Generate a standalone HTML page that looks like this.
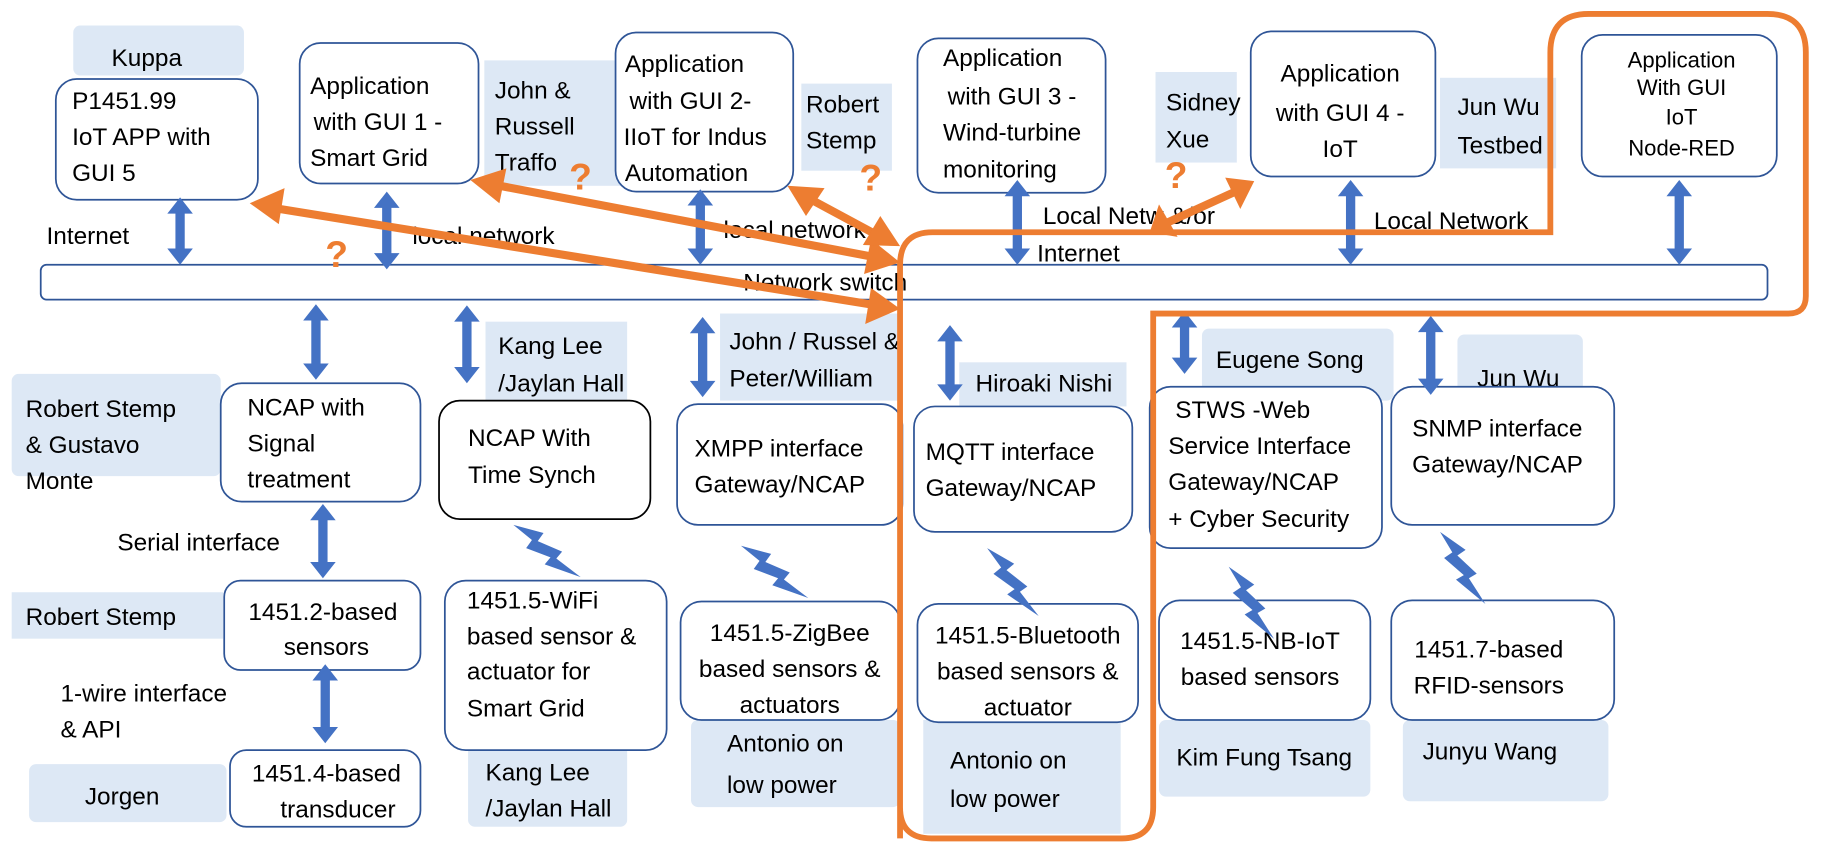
<!DOCTYPE html>
<html><head><meta charset="utf-8"><style>
html,body{margin:0;padding:0;background:#fff;}
svg{display:block;}
text{font-family:"Liberation Sans",sans-serif;font-size:21px;fill:#000;}
.lb{fill:#dde8f5;}
.bx{fill:#fff;stroke:#2f5597;stroke-width:1.5;}
.m{text-anchor:middle;}
.q{fill:#ed7d31;font-weight:bold;font-size:32px;font-family:"Liberation Sans",sans-serif;}
</style></head><body>
<svg width="1821" height="857" viewBox="0 0 1568 738" xmlns="http://www.w3.org/2000/svg">
<defs>
<path id="bolt" d="M0,0 L26,7 L21,14 L42,23 L37,29 L58,45 L27,34 L32,28 L11,20 L16,13 Z" fill="#4472c4"/>
</defs>
<!-- light labels -->
<rect class="lb" x="63" y="22" width="147" height="43" rx="6"/>
<rect class="lb" x="417" y="52" width="123" height="108"/>
<rect class="lb" x="690" y="72" width="78" height="75"/>
<rect class="lb" x="995" y="62" width="70" height="78"/>
<rect class="lb" x="1240" y="67" width="100" height="78"/>
<rect class="lb" x="418" y="277" width="122" height="68"/>
<rect class="lb" x="620" y="270" width="156" height="75"/>
<rect class="lb" x="826" y="312" width="144" height="38"/>
<rect class="lb" x="1035" y="283" width="165" height="62" rx="6"/>
<rect class="lb" x="1255" y="288" width="108" height="52" rx="6"/>
<rect class="lb" x="10" y="322" width="180" height="88" rx="6"/>
<rect class="lb" x="10" y="510" width="182" height="40"/>
<rect class="lb" x="25" y="658" width="170" height="50" rx="6"/>
<rect class="lb" x="403" y="640" width="137" height="72" rx="6"/>
<rect class="lb" x="595" y="620" width="180" height="75" rx="6"/>
<rect class="lb" x="795" y="620" width="170" height="98"/>
<rect class="lb" x="998" y="620" width="182" height="66" rx="6"/>
<rect class="lb" x="1208" y="620" width="177" height="70" rx="6"/>
<!-- label text -->
<text x="96" y="57">Kuppa</text>
<text x="426" y="85">John &amp;</text><text x="426" y="116">Russell</text><text x="426" y="147">Traffo</text>
<text x="694" y="97">Robert</text><text x="694" y="128">Stemp</text>
<text x="1004" y="95">Sidney</text><text x="1004" y="127">Xue</text>
<text x="1255" y="99">Jun Wu</text><text x="1255" y="132">Testbed</text>
<text x="429" y="305">Kang Lee</text><text x="429" y="337">/Jaylan Hall</text>
<text x="628" y="301">John / Russel &amp;</text><text x="628" y="333">Peter/William</text>
<text x="840" y="337">Hiroaki Nishi</text>
<text x="1047" y="317">Eugene Song</text>
<text x="1272" y="333">Jun Wu</text>
<text x="22" y="359">Robert Stemp</text><text x="22" y="390">&amp;  Gustavo</text><text x="22" y="421">Monte</text>
<text x="22" y="538">Robert Stemp</text>
<text x="73" y="693">Jorgen</text>
<text x="418" y="672">Kang Lee</text><text x="418" y="703">/Jaylan Hall</text>
<text x="626" y="647">Antonio on</text><text x="626" y="683">low power</text>
<text x="818" y="662">Antonio on</text><text x="818" y="695">low power</text>
<text x="1013" y="659">Kim Fung Tsang</text>
<text x="1225" y="654">Junyu Wang</text>
<!-- switch -->
<rect x="35" y="228" width="1487" height="30" rx="5" fill="#fff" stroke="#2f5597" stroke-width="1.5"/>
<text x="640" y="250">Network switch</text>
<!-- top boxes -->
<rect class="bx" x="48" y="68" width="174" height="104" rx="18"/>
<text x="62" y="94">P1451.99</text><text x="62" y="125">IoT APP with</text><text x="62" y="156">GUI 5</text>
<rect class="bx" x="258" y="37" width="154" height="121" rx="18"/>
<text x="267" y="81">Application</text><text x="270" y="112">with  GUI 1 -</text><text x="267" y="143">Smart Grid</text>
<rect class="bx" x="530" y="28" width="153" height="137" rx="18"/>
<text x="538" y="62">Application</text><text x="542" y="94">with  GUI 2-</text><text x="537" y="125">IIoT for Indus</text><text x="538" y="156">Automation</text>
<rect class="bx" x="790" y="33" width="162" height="133" rx="18"/>
<text x="812" y="57">Application</text><text x="816" y="90">with  GUI 3 -</text><text x="812" y="121">Wind-turbine</text><text x="812" y="153">monitoring</text>
<rect class="bx" x="1077" y="27" width="159" height="125" rx="18"/>
<text class="m" x="1154" y="70">Application</text><text class="m" x="1154" y="104">with GUI 4 -</text><text class="m" x="1154" y="135">IoT</text>
<rect class="bx" x="1362" y="30" width="168" height="122" rx="18"/>
<text class="m" x="1448" y="58" style="font-size:19px">Application</text><text class="m" x="1448" y="82" style="font-size:19px">With GUI</text><text class="m" x="1448" y="107" style="font-size:19px">IoT</text><text class="m" x="1448" y="134" style="font-size:19px">Node-RED</text>
<!-- middle boxes -->
<rect class="bx" x="190" y="330" width="172" height="102" rx="18"/>
<text x="213" y="358">NCAP with</text><text x="213" y="389">Signal</text><text x="213" y="420">treatment</text>
<rect x="378" y="345" width="182" height="102" rx="18" fill="#fff" stroke="#000" stroke-width="1.5"/>
<text x="403" y="384">NCAP With</text><text x="403" y="416">Time Synch</text>
<rect class="bx" x="583" y="348" width="194" height="104" rx="18"/>
<text x="598" y="393">XMPP interface</text><text x="598" y="424">Gateway/NCAP</text>
<rect class="bx" x="787" y="350" width="188" height="108" rx="18"/>
<text x="797" y="396">MQTT interface</text><text x="797" y="427">Gateway/NCAP</text>
<rect class="bx" x="990" y="333" width="200" height="139" rx="18"/>
<text x="1012" y="360">STWS -Web</text><text x="1006" y="391">Service Interface</text><text x="1006" y="422">Gateway/NCAP</text><text x="1006" y="454">+ Cyber Security</text>
<rect class="bx" x="1198" y="333" width="192" height="119" rx="18"/>
<text x="1216" y="376">SNMP interface</text><text x="1216" y="407">Gateway/NCAP</text>
<!-- bottom boxes -->
<rect class="bx" x="193" y="500" width="169" height="77" rx="14"/>
<text class="m" x="278" y="534">1451.2-based</text><text class="m" x="281" y="564">sensors</text>
<rect class="bx" x="198" y="646" width="164" height="66" rx="14"/>
<text class="m" x="281" y="673">1451.4-based</text><text class="m" x="291" y="704">transducer</text>
<rect class="bx" x="383" y="500" width="191" height="146" rx="18"/>
<text x="402" y="524">1451.5-WiFi</text><text x="402" y="555">based sensor &amp;</text><text x="402" y="585">actuator for</text><text x="402" y="617">Smart Grid</text>
<rect class="bx" x="586" y="518" width="189" height="102" rx="18"/>
<text class="m" x="680" y="552">1451.5-ZigBee</text><text class="m" x="680" y="583">based sensors &amp;</text><text class="m" x="680" y="614">actuators</text>
<rect class="bx" x="790" y="520" width="190" height="102" rx="18"/>
<text class="m" x="885" y="554">1451.5-Bluetooth</text><text class="m" x="885" y="585">based sensors &amp;</text><text class="m" x="885" y="616">actuator</text>
<rect class="bx" x="998" y="517" width="182" height="103" rx="18"/>
<text class="m" x="1085" y="559">1451.5-NB-IoT</text><text class="m" x="1085" y="590">based sensors</text>
<rect class="bx" x="1198" y="517" width="192" height="103" rx="18"/>
<text class="m" x="1282" y="566">1451.7-based</text><text class="m" x="1282" y="597">RFID-sensors</text>
<!-- plain labels -->
<text x="40" y="210">Internet</text>
<text x="355" y="210">local network</text>
<text x="623" y="205">local network</text>
<text x="898" y="193">Local Netw &amp;/or</text><text x="893" y="225">Internet</text>
<text x="1183" y="197">Local Network</text>
<text x="101" y="474">Serial interface</text>
<text x="52" y="604">1-wire interface</text><text x="52" y="635">&amp; API</text>
<!-- blue double arrows -->
<g fill="#4472c4">
<polygon points="155,170 166,184 159,184 159,214 166,214 155,228 144,214 151,214 151,184 144,184"/>
<polygon points="333,165 344,179 337,179 337,218 344,218 333,232 322,218 329,218 329,179 322,179"/>
<polygon points="603,163 614,177 607,177 607,214 614,214 603,228 592,214 599,214 599,177 592,177"/>
<polygon points="876,155 887,169 880,169 880,214 887,214 876,228 865,214 872,214 872,169 865,169"/>
<polygon points="1163,155 1174,169 1167,169 1167,214 1174,214 1163,228 1152,214 1159,214 1159,169 1152,169"/>
<polygon points="1446,155 1457,169 1450,169 1450,214 1457,214 1446,228 1435,214 1442,214 1442,169 1435,169"/>
<polygon points="272,262 283,276 276,276 276,313 283,313 272,327 261,313 268,313 268,276 261,276"/>
<polygon points="402,263 413,277 406,277 406,316 413,316 402,330 391,316 398,316 398,277 391,277"/>
<polygon points="605,273 616,287 609,287 609,328 616,328 605,342 594,328 601,328 601,287 594,287"/>
<polygon points="818,280 829,294 822,294 822,331 829,331 818,345 807,331 814,331 814,294 807,294"/>
<polygon points="1020,268 1031,282 1024,282 1024,308 1031,308 1020,322 1009,308 1016,308 1016,282 1009,282"/>
<polygon points="1232,272 1243,286 1236,286 1236,326 1243,326 1232,340 1221,326 1228,326 1228,286 1221,286"/>
<polygon points="278,434 289,448 282,448 282,484 289,484 278,498 267,484 274,484 274,448 267,448"/>
<polygon points="280,572 291,586 284,586 284,626 291,626 280,640 269,626 276,626 276,586 269,586"/>
</g>
<!-- lightning -->
<use href="#bolt" transform="translate(442,452)"/>
<use href="#bolt" transform="translate(638,470)"/>
<use href="#bolt" transform="translate(850,472) rotate(15)"/>
<use href="#bolt" transform="translate(1058,488) rotate(20)"/>
<use href="#bolt" transform="translate(1240,458) rotate(20)"/>
<!-- orange outline -->
<path d="M775,722 L775,228 Q775,200 803,200 L1335,200 L1335,45 Q1335,12 1368,12 L1522,12 Q1555,12 1555,45 L1555,255 Q1555,270 1540,270 L993,270 L993,695 Q993,722 966,722 L802,722 Q775,722 775,695 Z" fill="none" stroke="#ed7d31" stroke-width="5"/>
<!-- orange arrows -->
<g stroke="#ed7d31" stroke-width="7" fill="none">
<line x1="235" y1="179" x2="755" y2="263"/>
<line x1="425" y1="159" x2="756" y2="222"/>
<line x1="695" y1="170" x2="760" y2="205"/>
<line x1="1000" y1="194" x2="1066" y2="164"/>
</g>
<g fill="#ed7d31">
<polygon points="215,175 245,162 240,193"/>
<polygon points="775,266 745,279 750,248"/>
<polygon points="405,155 436,145 430,175"/>
<polygon points="775,226 744,236 750,206"/>
<polygon points="678,160 710,162 694,186"/>
<polygon points="775,212 743,211 758,186"/>
<polygon points="990,200 998,176 1014,204"/>
<polygon points="1080,156 1068,180 1055,153"/>
</g>
<text class="q" x="490" y="163">?</text>
<text class="q" x="740" y="164">?</text>
<text class="q" x="280" y="230">?</text>
<text class="q" x="1003" y="162">?</text>
</svg>
</body></html>
